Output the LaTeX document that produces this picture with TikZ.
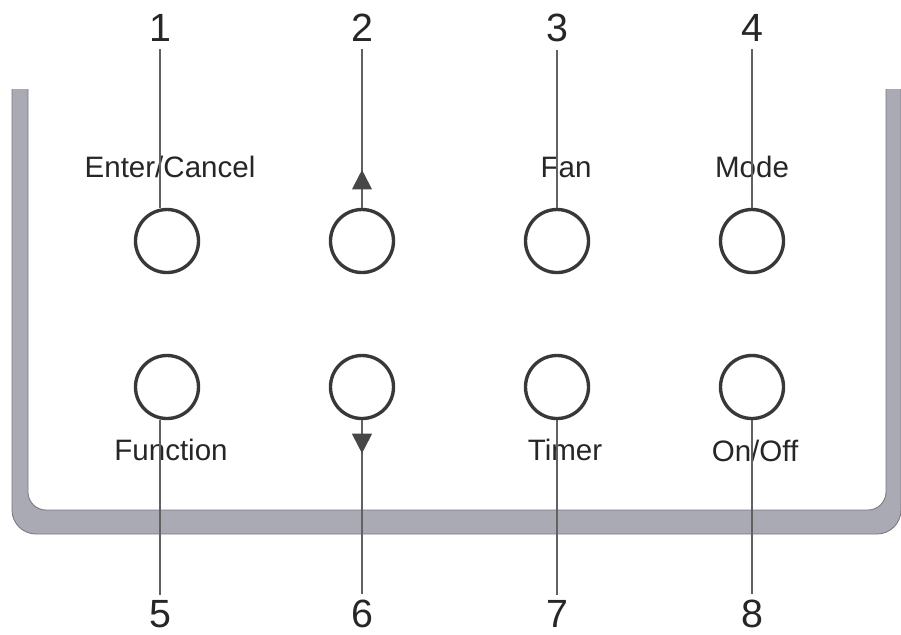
\documentclass[tikz,border=0pt]{standalone}
\usepackage{fontspec}
\setmainfont{Liberation Sans}
\usetikzlibrary{arrows.meta,decorations.markings}
\definecolor{panelgray}{RGB}{170,170,180}
\definecolor{paneledge}{RGB}{120,120,130}

\begin{document}
\begin{tikzpicture}[x=0.025cm,y=-0.025cm,
    button/.style={circle,draw=black!78,line width=2.4pt,minimum size=1.575cm,inner sep=0pt},
    lead/.style={draw=black!62,line width=1.5pt},
    num/.style={inner sep=0pt,outer sep=5.5pt,text=black!85,font=\fontsize{28}{30}\selectfont},
    lbl/.style={anchor=base,inner sep=0pt,text=black!85,font=\fontsize{21}{24}\selectfont},
    uparrow/.style={postaction={decorate},decoration={markings,
        mark=at position 0.95cm with {\arrow{Triangle[width=14pt,length=14pt,color=black!72]}}}},
    downarrow/.style={postaction={decorate},decoration={markings,
        mark=at position 0.83cm with {\arrow{Triangle[width=14pt,length=14pt,color=black!72]}}}}]
      \useasboundingbox (0,0) rectangle (901,634);
      % panel frame
      \begin{scope}
        \clip (0,89) rectangle (901,634);
        \filldraw[fill=panelgray,draw=paneledge,line width=0.6pt,even odd rule,rounded corners=0.6cm]
          (12,0) rectangle (901,534) [rounded corners=0.45cm] (28,0) rectangle (886,510);
      \end{scope}
      % labels
      \node[lbl] (lblenter) at (170,177) {Enter/Cancel};
      \node[lbl] (lblfan) at (566,177) {Fan};
      \node[lbl] (lblmode) at (752,177) {Mode};
      \node[lbl] (lblfunction) at (171,460) {Function};
      \node[lbl] (lbltimer) at (565,460) {Timer};
      \node[lbl] (lblonoff) at (755,461) {On/Off};
      % buttons
      \node[button] (btn1) at (167,241) {};
      \node[button] (btn2) at (362,241) {};
      \node[button] (btn3) at (557,241) {};
      \node[button] (btn4) at (752,241) {};
      \node[button] (btn5) at (167,387) {};
      \node[button] (btn6) at (362,387) {};
      \node[button] (btn7) at (557,387) {};
      \node[button] (btn8) at (752,387) {};
      % numbers
      \node[num] (num1) at (160,28) {1};
      \node[num] (num2) at (362,28) {2};
      \node[num] (num3) at (557,28) {3};
      \node[num] (num4) at (752,28) {4};
      \node[num,outer sep=4pt] (num5) at (160,614) {5};
      \node[num,outer sep=4pt] (num6) at (362,614) {6};
      \node[num,outer sep=4pt] (num7) at (557,614) {7};
      \node[num,outer sep=4pt] (num8) at (752,614) {8};
      % leader lines
      \draw[lead] (num1.south) -- (num1.south |- btn1.north);
      \draw[lead,uparrow] (btn2.north) -- (num2.south);
      \draw[lead] (num3.south) -- (btn3.north);
      \draw[lead] (num4.south) -- (btn4.north);
      \draw[lead] (num5.north |- btn5.south) -- (num5.north);
      \draw[lead,downarrow] (btn6.south) -- (num6.north);
      \draw[lead] (btn7.south) -- (num7.north);
      \draw[lead] (btn8.south) -- (num8.north);
    \end{tikzpicture}
\end{document}
